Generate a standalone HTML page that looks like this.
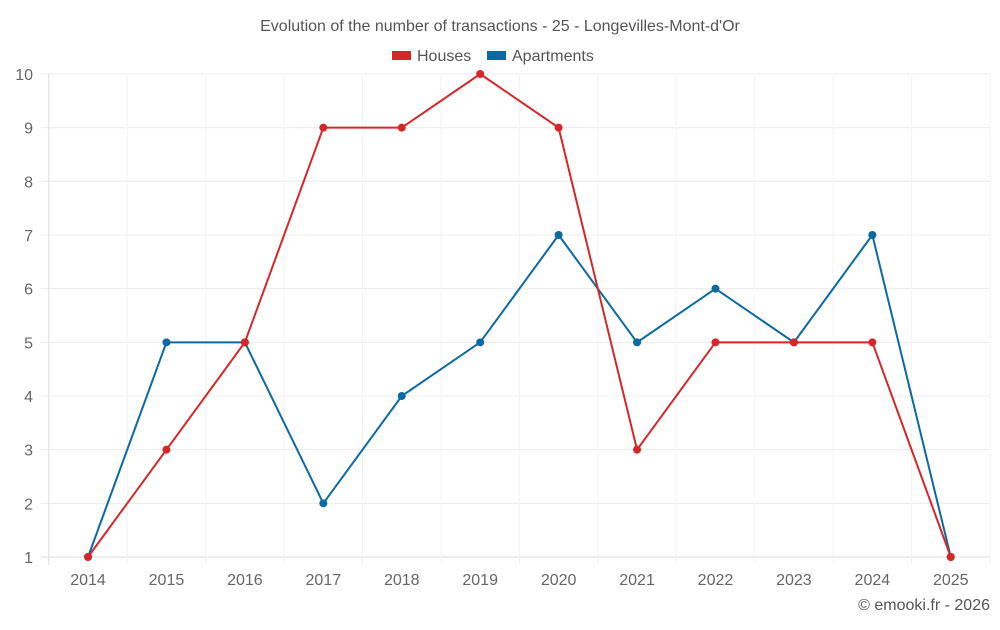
<!DOCTYPE html>
<html><head><meta charset="utf-8"><style>
body{margin:0;background:#fff;font-family:"Liberation Sans",sans-serif}
svg text{font-family:"Liberation Sans",sans-serif}
</style></head><body>
<svg id="c" width="1000" height="625">
<text x="500" y="31" text-anchor="middle" font-size="16" fill="#555">Evolution of the number of transactions - 25 - Longevilles-Mont-d'Or</text>
<g>
<g><rect x="392" y="51" width="19" height="9" fill="#d62728"/><text x="417" y="61" font-size="16" fill="#555">Houses</text></g>
<g><rect x="487" y="51" width="19" height="9" fill="#0b6aa2"/><text x="512" y="61" font-size="16" fill="#555">Apartments</text></g>
</g>
<g id="grid"></g><g id="axes"></g><g id="series"></g>
<text x="990" y="610" text-anchor="end" font-size="16" fill="#555">© emooki.fr - 2026</text>
</svg>
<script>
const categories=[2014,2015,2016,2017,2018,2019,2020,2021,2022,2023,2024,2025];
const houses=[1,3,5,9,9,10,9,3,5,5,5,1];
const apartments=[1,5,5,2,4,5,7,5,6,5,7,1];
const yTicks=[1,2,3,4,5,6,7,8,9,10];
const NS="http://www.w3.org/2000/svg";
const L=48.8,R=990,T=74,B=557,yMin=1,yMax=10;
const bw=(R-L)/categories.length;
const xs=i=>L+bw*(i+0.5);
const ys=v=>B-(v-yMin)/(yMax-yMin)*(B-T);
function mk(tag,attrs,parent){const e=document.createElementNS(NS,tag);for(const k in attrs)e.setAttribute(k,attrs[k]);parent.appendChild(e);return e;}
const grid=document.getElementById('grid'),axes=document.getElementById('axes'),ser=document.getElementById('series');
yTicks.forEach(t=>{
 const l=mk('line',{x1:L-8,x2:R,y1:ys(t),y2:ys(t),stroke:t===yMin?'#ddd':'#ececec'},grid);
 
 
 const tx=mk('text',{x:33,y:ys(t)+6,'text-anchor':'end','font-size':16,fill:'#666'},axes);
 tx.textContent=t;
 
 
});
for(let i=0;i<=categories.length;i++){
 const x=L+bw*i;
 const l=mk('line',{x1:x,x2:x,y1:T,y2:B+8,stroke:i===0?'#ddd':'#f3f3f3'},grid);
 
 
}
categories.forEach((c,i)=>{
 const tx=mk('text',{x:xs(i),y:585,'text-anchor':'middle','font-size':16,fill:'#666'},axes);
 tx.textContent=c;
 
 
});
function drawSeries(vals,color,name){
 const g=mk('g',{},ser);
 
 
 const p=mk('polyline',{points:vals.map((v,i)=>xs(i)+','+ys(v)).join(' '),fill:'none',stroke:color,'stroke-width':2},g);
 
 
 vals.forEach((v,i)=>{
  const c=mk('circle',{cx:xs(i),cy:ys(v),r:4,fill:color},g);
  
  
 });
}
drawSeries(apartments,'#0b6aa2','apartments');
drawSeries(houses,'#d62728','houses');
</script>
</body></html>
